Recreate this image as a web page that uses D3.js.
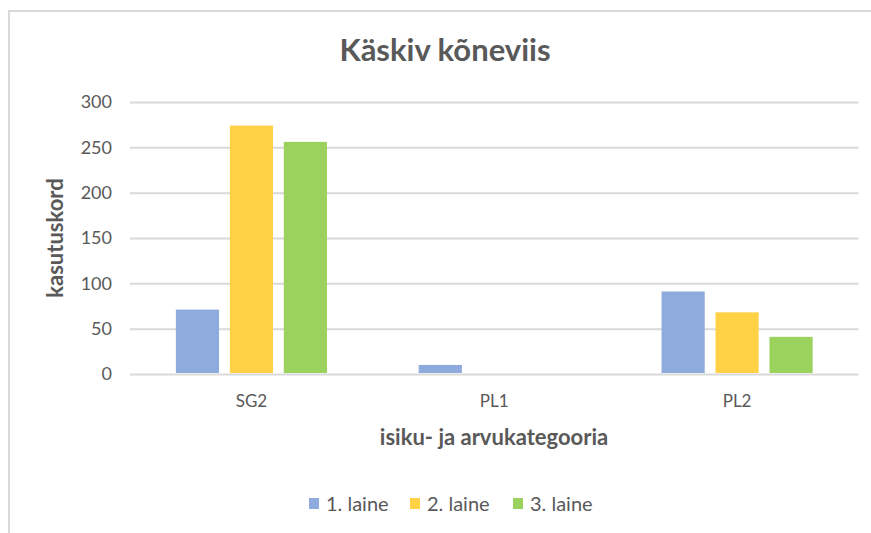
<!DOCTYPE html>
<html>
<head>
<meta charset="utf-8">
<script src="https://cdn.jsdelivr.net/npm/d3@7"></script>
<style>
  body { margin: 0; background: #fff; }
  text { font-family: Lato, "Open Sans", sans-serif; fill: #595959; }
</style>
</head>
<body>
<svg id="chart" width="871" height="533"></svg>
<script>
// data
var categories = ['SG2', 'PL1', 'PL2'];
var seriesNames = ['1. laine', '2. laine', '3. laine'];
var laine1 = [71, 10, 91];
var laine2 = [274, 0, 68];
var laine3 = [256, 0, 41];
var yTicks = [0, 50, 100, 150, 200, 250, 300];

var colors = ['#8faadc', '#ffd145', '#9bd25e'];
var values = [laine1, laine2, laine3];

var svg = d3.select('#chart');

// outer frame (cropped on right/bottom)
svg.append('rect')
    .attr('x', 9).attr('y', 11)
    .attr('width', 880).attr('height', 540)
    .attr('fill', 'none')
    .attr('stroke', '#d9d9d9')
    .attr('stroke-width', 2);

var pLeft = 130, pRight = 858.5, pTop = 102, pBottom = 374;

var x0 = d3.scaleBand().domain(categories).range([pLeft, pRight]);
var x1 = d3.scaleBand().domain(seriesNames).range([0, x0.bandwidth()])
    .paddingInner(0.2).paddingOuter(0.85);
var y = d3.scaleLinear().domain([0, 300]).range([pBottom, pTop]);

// y axis with gridlines
var yAxis = svg.append('g')
    .attr('transform', 'translate(' + pLeft + ',0)')
    .call(d3.axisLeft(y).tickValues(yTicks).tickSize(-(pRight - pLeft)).tickPadding(18));
yAxis.select('.domain').remove();
yAxis.selectAll('.tick line').attr('stroke', '#d9d9d9').attr('stroke-width', 2);
yAxis.selectAll('.tick text')
    .style('font-size', '18px')
    .attr('fill', '#595959');

// bars
var rows = [];
categories.forEach(function(c, i) {
    seriesNames.forEach(function(s, j) {
        rows.push({cat: c, series: s, value: values[j][i], color: colors[j]});
    });
});

svg.append('g').selectAll('rect')
    .data(rows.filter(function(d) { return d.value > 0; }))
    .enter()
    .append('rect')
        .attr('x', function(d) { return x0(d.cat) + x1(d.series); })
        .attr('y', function(d) { return y(d.value); })
        .attr('width', x1.bandwidth())
        .attr('height', function(d) { return y(0) - y(d.value) - 1; })
        .attr('fill', function(d) { return d.color; });

// x axis labels
var xAxis = svg.append('g')
    .attr('transform', 'translate(0,' + pBottom + ')')
    .call(d3.axisBottom(x0).tickSize(0).tickPadding(21));
xAxis.select('.domain').remove();
xAxis.selectAll('.tick text')
    .style('font-size', '17px')
    .attr('fill', '#595959');

// title
svg.append('text')
    .attr('x', 445).attr('y', 61)
    .attr('text-anchor', 'middle')
    .style('font-size', '31px')
    .style('font-weight', 'bold')
    .text('Käskiv kõneviis');

// axis titles
svg.append('text')
    .attr('x', 494).attr('y', 445)
    .attr('text-anchor', 'middle')
    .style('font-size', '22px')
    .style('font-weight', 'bold')
    .text('isiku- ja arvukategooria');

svg.append('text')
    .attr('transform', 'translate(63,238) rotate(-90)')
    .attr('text-anchor', 'middle')
    .style('font-size', '22px')
    .style('font-weight', 'bold')
    .text('kasutuskord');

// legend
var legendX = [309, 410, 513];
var legend = svg.append('g').selectAll('g')
    .data(seriesNames)
    .enter()
    .append('g')
        .attr('transform', function(d, i) { return 'translate(' + legendX[i] + ',498)'; });
legend.append('rect')
    .attr('width', 10).attr('height', 11)
    .attr('fill', function(d, i) { return colors[i]; });
legend.append('text')
    .attr('x', 17).attr('y', 13)
    .style('font-size', '20px')
    .text(function(d) { return d; });
</script>
</body>
</html>
